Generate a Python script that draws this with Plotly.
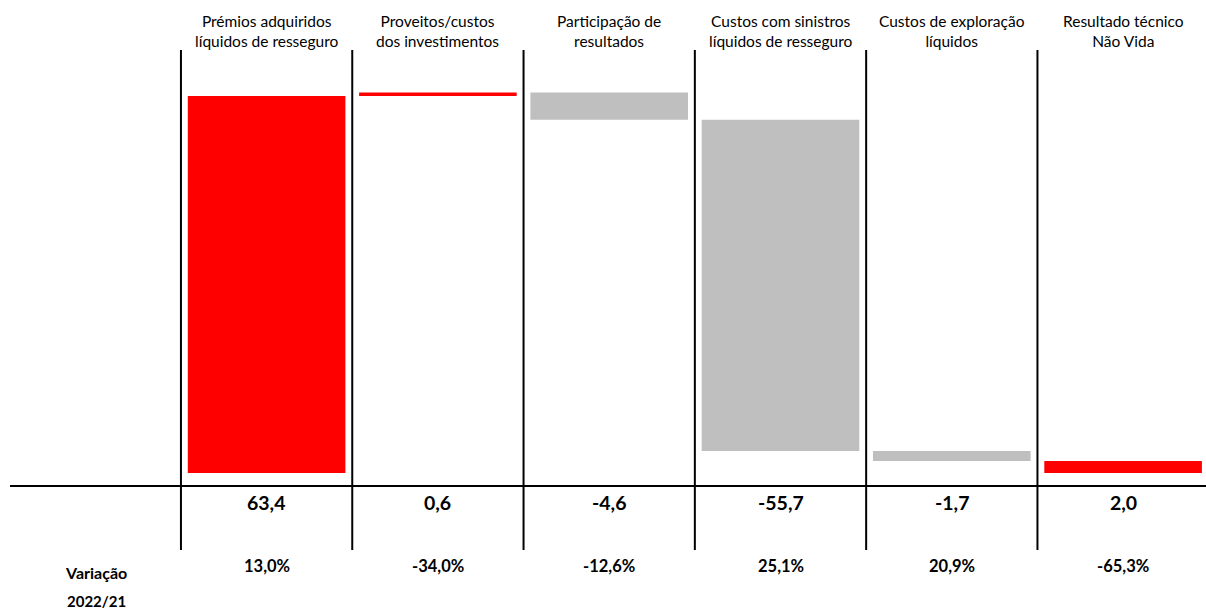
import plotly.graph_objects as go

# Non-life technical result bridge (EUR million)
categories = [
    "Prémios adquiridos<br>líquidos de resseguro",
    "Proveitos/custos<br>dos investimentos",
    "Participação de<br>resultados",
    "Custos com sinistros<br>líquidos de resseguro",
    "Custos de exploração<br>líquidos",
    "Resultado técnico<br>Não Vida",
]
values = [63.4, 0.6, -4.6, -55.7, -1.7, 2.0]
measures = ["relative", "relative", "relative", "relative", "relative", "total"]
variation = ["13,0%", "-34,0%", "-12,6%", "25,1%", "20,9%", "-65,3%"]

W, H = 1206, 612
FONT = "Lato"
RED = "#FF0000"
GREY = "#BFBFBF"

xs = list(range(len(categories)))

fig = go.Figure(
    go.Waterfall(
        x=xs,
        y=values,
        measure=measures,
        width=0.92,
        increasing=dict(marker=dict(color=RED)),
        decreasing=dict(marker=dict(color=GREY)),
        totals=dict(marker=dict(color=RED)),
        connector=dict(visible=False),
        hoverinfo="x+y",
    )
)

# axis scaling: 0 sits at the baseline, the first bar top near the headers
px_per_unit = 377 / 63.4
base_px = 473
y_max = (base_px - 0) / px_per_unit
y_min = -(H - base_px) / px_per_unit

col_w = 171.3
first_center = 266.6
x_min = -first_center / col_w
x_max = x_min + W / col_w

def py(pix):
    """Paper y from a pixel row counted from the top."""
    return (H - pix) / H

shapes = []
# column separators
for i in xs:
    shapes.append(dict(type="line", xref="x", yref="paper",
                       x0=i - 0.5, x1=i - 0.5, y0=py(550), y1=py(50),
                       line=dict(color="black", width=2)))
# baseline rule under the bars
shapes.append(dict(type="line", xref="paper", yref="paper",
                   x0=10 / W, x1=1, y0=py(486), y1=py(486),
                   line=dict(color="black", width=2)))

annotations = []
for i, (cat, v, var) in enumerate(zip(categories, values, variation)):
    annotations.append(dict(x=i, y=py(31), xref="x", yref="paper", text=cat,
                            showarrow=False, xanchor="center", yanchor="middle",
                            font=dict(family=FONT, size=15.5, color="black")))
    annotations.append(dict(x=i, y=py(502), xref="x", yref="paper",
                            text="<b>" + f"{v:.1f}".replace(".", ",") + "</b>",
                            showarrow=False, xanchor="center", yanchor="middle",
                            font=dict(family=FONT, size=19.5, color="black")))
    annotations.append(dict(x=i, y=py(566), xref="x", yref="paper",
                            text="<b>" + var + "</b>",
                            showarrow=False, xanchor="center", yanchor="middle",
                            font=dict(family=FONT, size=16.5, color="black")))

annotations.append(dict(x=96 / W, y=py(572), xref="paper", yref="paper",
                        text="<b>Variação</b>", showarrow=False,
                        xanchor="center", yanchor="middle",
                        font=dict(family=FONT, size=16, color="black")))
annotations.append(dict(x=96 / W, y=py(601), xref="paper", yref="paper",
                        text="<b>2022/21</b>", showarrow=False,
                        xanchor="center", yanchor="middle",
                        font=dict(family=FONT, size=15, color="black")))

fig.update_layout(
    width=W, height=H,
    margin=dict(l=0, r=0, t=0, b=0),
    paper_bgcolor="white", plot_bgcolor="white",
    showlegend=False,
    xaxis=dict(range=[x_min, x_max], visible=False, fixedrange=True),
    yaxis=dict(range=[y_min, y_max], visible=False, fixedrange=True),
    shapes=shapes,
    annotations=annotations,
    font=dict(family=FONT),
)

fig.write_html("out.html")
